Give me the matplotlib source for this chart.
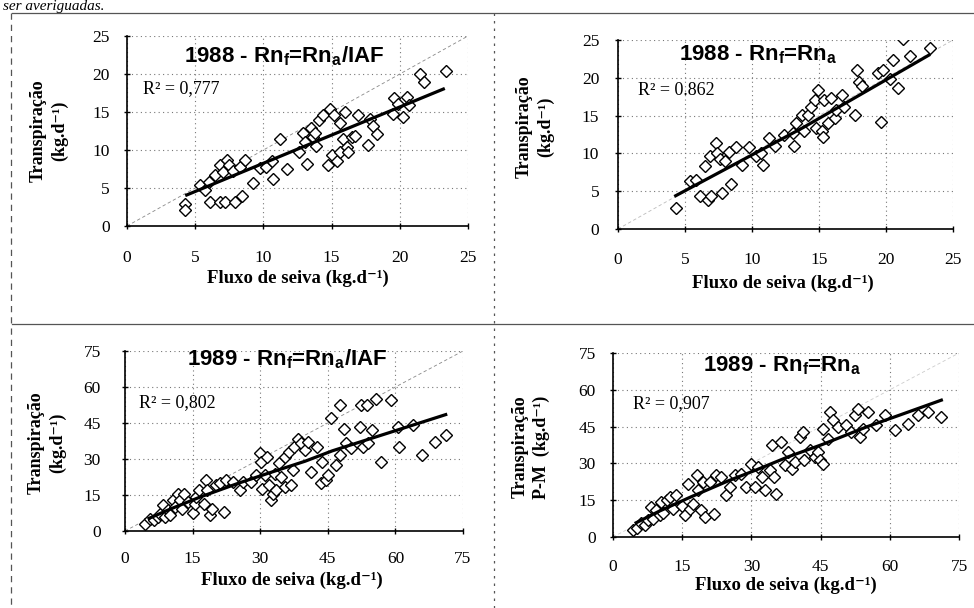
import matplotlib
matplotlib.use("Agg")
import matplotlib.pyplot as plt
from matplotlib.lines import Line2D

plt.rcParams['mathtext.fontset'] = 'custom'
plt.rcParams['mathtext.rm'] = 'Liberation Sans:bold'
plt.rcParams['mathtext.bf'] = 'Liberation Sans:bold'
plt.rcParams['mathtext.it'] = 'Liberation Sans:bold'

# ---------------- data ----------------
# Panel 1: 1988 - Rnf = Rna/IAF
p1_x = [4.27, 4.27, 5.37, 5.7, 6.0, 6.05, 6.46, 6.8, 6.8, 7.07, 7.3, 7.2, 7.5, 7.8, 7.9,
        8.3, 8.4, 8.66, 9.27, 9.76, 10.2, 10.7, 10.6, 11.2, 11.7, 12.6, 13.2, 12.9, 13.05,
        13.5, 13.65, 13.85, 13.8, 14.1, 14.4, 14.9, 14.75, 15.0, 15.2, 15.4, 15.6, 15.6,
        15.85, 16.0, 16.1, 16.5, 16.2, 16.7, 16.95, 17.7, 17.8, 18.0, 18.3, 19.5, 19.6,
        19.9, 20.2, 20.5, 20.7, 21.5, 21.8, 23.4]
p1_y = [2.85, 2.1, 5.35, 4.7, 5.8, 3.1, 6.7, 3.1, 8.0, 7.1, 8.7, 3.1, 8.0, 7.3, 3.1,
        7.8, 4.0, 8.7, 5.6, 7.6, 7.8, 6.2, 8.5, 11.4, 7.5, 9.7, 8.2, 12.2, 11.1,
        12.9, 11.7, 10.5, 12.2, 13.9, 14.6, 15.4, 8.0, 9.3, 14.6, 8.6, 9.7, 13.5,
        11.5, 15.0, 10.4, 11.7, 9.7, 11.9, 14.6, 10.6, 14.1, 13.2, 12.1, 14.8, 16.8,
        16.1, 14.4, 17.0, 15.9, 20.0, 19.0, 20.4]
p1_trend_x = [4.27, 14.1, 23.3]
p1_trend_y = [4.0, 11.3, 18.1]

# Panel 2: 1988 - Rnf = Rna
p2_x = [4.3, 5.4, 5.85, 6.1, 6.5, 6.7, 6.97, 6.84, 7.3, 7.4, 7.6, 7.76, 7.96, 8.4, 8.3,
        8.8, 9.25, 9.8, 10.3, 10.7, 10.8, 11.3, 11.7, 12.4, 13.1, 13.05, 13.3, 13.7,
        13.9, 14.2, 14.4, 14.7, 14.9, 14.8, 15.2, 15.3, 15.4, 15.7, 15.9, 16.2, 16.3,
        16.7, 16.9, 17.7, 17.8, 17.95, 18.2, 19.4, 19.65, 19.8, 20.3, 20.5, 20.9, 21.3,
        21.8, 23.3]
p2_y = [2.8, 6.4, 6.5, 4.3, 8.3, 3.9, 4.4, 9.7, 11.4, 10.0, 9.2, 4.8, 9.0, 5.9, 10.2,
        10.8, 8.4, 10.8, 9.6, 10.0, 8.5, 12.1, 11.0, 12.5, 11.0, 12.7, 14.0, 15.1,
        12.9, 15.1, 16.2, 17.1, 18.4, 13.3, 12.9, 12.2, 17.1, 14.0, 17.3, 14.7, 15.8,
        17.7, 16.2, 15.1, 21.0, 19.5, 18.9, 20.6, 14.2, 21.0, 19.9, 22.4, 18.6, 25.1,
        22.9, 23.9]
p2_trend_x = [4.2, 13.8, 23.3]
p2_trend_y = [4.3, 13.4, 23.1]

# Panel 3: 1989 - Rnf = Rna/IAF
p3_x = [4.4, 5.5, 6.4, 7.3, 7.7, 8.4, 8.8, 9.5, 9.9, 10.6, 11.0, 11.8, 12.1, 12.7, 13.2,
        14.0, 15.1, 15.5, 15.8, 16.4, 17.5, 18.0, 18.2, 18.8, 19.2, 20.3, 21.0, 21.9,
        22.5, 24.0, 25.6, 26.2, 28.0, 29.1, 29.9, 30.1, 30.3, 31.0, 31.4, 31.9, 32.5,
        32.8, 33.2, 33.6, 34.2, 34.7, 35.4, 35.6, 36.5, 36.9, 37.3, 37.6, 38.4, 39.1,
        39.9, 40.6, 41.3, 42.5, 43.6, 43.8, 44.5, 45.0, 45.8, 46.9, 47.6, 47.6, 48.7,
        48.96, 50.2, 52.1, 52.4, 52.8, 53.6, 53.9, 54.7, 55.8, 56.9, 59.1, 60.6, 60.9,
        63.9, 65.8, 68.7, 71.3]
p3_y = [2.8, 5.1, 4.5, 5.8, 7.2, 10.7, 5.8, 8.6, 6.5, 12.8, 10.0, 15.6, 13.1, 9.3, 15.3,
        12.1, 7.5, 11.1, 14.2, 17.0, 11.4, 21.1, 17.0, 6.5, 9.3, 19.1, 20.0, 7.9,
        21.1, 20.5, 17.0, 20.5, 20.5, 23.2, 32.3, 28.8, 17.7, 23.2, 30.9, 19.1, 12.8,
        15.6, 23.9, 17.0, 28.4, 22.5, 30.9, 18.4, 33.0, 19.1, 25.3, 35.1, 38.5, 36.5,
        33.7, 37.2, 24.6, 35.1, 19.8, 28.8, 21.2, 23.2, 46.9, 27.4, 31.6, 52.5, 42.7,
        36.5, 34.4, 43.4, 52.5, 35.1, 52.5, 36.5, 42.0, 55.2, 28.8, 54.5, 43.4, 35.1,
        44.1, 31.6, 37.2, 40.0]
p3_trend_x = [5, 10, 16.6, 25, 32, 40, 46, 55, 60, 71.5]
p3_trend_y = [5, 9.1, 14.1, 19.8, 24.2, 29.1, 33.4, 38.8, 41.8, 48.7]

# Panel 4: 1989 - Rnf = Rna
p4_x = [4.3, 5.1, 6.1, 6.9, 7.6, 8.3, 8.7, 9.4, 10.1, 10.5, 10.8, 11.6, 12.3, 12.9, 13.7,
        15.0, 15.5, 16.3, 16.6, 17.3, 18.1, 18.4, 19.1, 19.5, 19.9, 21.0, 21.8, 22.4,
        23.5, 24.6, 25.3, 26.4, 27.8, 28.9, 30.0, 30.7, 31.4, 32.2, 32.9, 34.0, 34.5,
        35.0, 35.4, 36.5, 37.2, 37.9, 38.7, 39.4, 40.5, 41.2, 41.5, 42.6, 43.7, 44.4,
        44.8, 45.5, 45.5, 46.6, 47.0, 47.7, 48.8, 50.6, 51.6, 52.4, 53.1, 53.5, 54.2,
        55.3, 57.1, 58.9, 61.1, 63.9, 66.1, 68.3, 71.2]
p4_y = [2.7, 3.8, 5.7, 4.8, 6.8, 12.2, 7.5, 10.9, 8.8, 14.3, 9.8, 14.9, 16.3, 11.5, 17.0,
        12.5, 8.8, 21.7, 11.5, 13.6, 25.1, 19.0, 10.9, 22.4, 8.2, 22.4, 9.5, 25.1,
        24.5, 17.0, 20.4, 25.1, 25.8, 20.4, 29.9, 20.4, 28.5, 24.5, 19.0, 27.2, 37.4,
        24.5, 17.7, 38.7, 29.2, 34.6, 27.8, 30.6, 40.8, 42.8, 31.2, 35.3, 32.6, 34.6,
        31.2, 29.9, 44.2, 40.1, 50.9, 47.6, 44.8, 45.5, 42.8, 49.6, 52.3, 40.8, 44.2,
        50.9, 45.5, 49.6, 43.5, 46.2, 49.6, 50.9, 48.9]
p4_trend_x = [4.7, 10, 16.6, 25, 31, 38, 45.5, 55, 62, 71.5]
p4_trend_y = [5.5, 10.5, 16.1, 22.9, 27.3, 32.7, 37.8, 44.9, 49.6, 56.0]

ticks_1988 = [0, 5, 10, 15, 20, 25]
ticks_1989 = [0, 15, 30, 45, 60, 75]

titles = ["1988 - Rn$_f$=Rn$_a$/IAF",
          "1988 - Rn$_f$=Rn$_a$",
          "1989 - Rn$_f$=Rn$_a$/IAF",
          "1989 - Rn$_f$=Rn$_a$"]
r2_texts = ["R² = 0,777", "R² = 0.862", "R² = 0,802", "R² = 0,907"]
ylabels = ["Transpiração\n(kg.d⁻¹)", "Transpiração\n(kg.d⁻¹)",
           "Transpiração\n(kg.d⁻¹)", "Transpiração\nP-M  (kg.d⁻¹)"]
xlabel = "Fluxo de seiva (kg.d⁻¹)"

# ---------------- layout ----------------
W, H = 974, 608
fig = plt.figure(figsize=(W / 100, H / 100), dpi=100)
fig.patch.set_facecolor('white')

def rect(l, r, t, b):
    return [l / W, 1 - b / H, (r - l) / W, (b - t) / H]

def fx(x):
    return x / W

def fy(y):
    return 1 - y / H

panels = [
    dict(box=(127, 468, 36, 226), x=p1_x, y=p1_y, tx=p1_trend_x, ty=p1_trend_y, ticks=ticks_1988,
         title_pos=(0.46, 0.86), r2_pos=(0.047, 0.70), ylab=(49, 131), xlab=(298, 278), xpad=15, ypad=10,
         diag='#888888'),
    dict(box=(618, 953, 40, 229), x=p2_x, y=p2_y, tx=p2_trend_x, ty=p2_trend_y, ticks=ticks_1988,
         title_pos=(0.42, 0.89), r2_pos=(0.06, 0.71), ylab=(535, 127), xlab=(783, 283), xpad=14, ypad=11,
         diag='#bbbbbb'),
    dict(box=(125, 463, 351, 531), x=p3_x, y=p3_y, tx=p3_trend_x, ty=p3_trend_y, ticks=ticks_1989,
         title_pos=(0.48, 0.92), r2_pos=(0.04, 0.69), ylab=(47, 443), xlab=(292, 580), xpad=12, ypad=15,
         diag='#888888'),
    dict(box=(613, 959, 353, 537), x=p4_x, y=p4_y, tx=p4_trend_x, ty=p4_trend_y, ticks=ticks_1989,
         title_pos=(0.49, 0.90), r2_pos=(0.058, 0.70), ylab=(531, 447), xlab=(786, 585), xpad=13, ypad=10,
         diag='#cccccc'),
]

serif = ['Liberation Serif', 'DejaVu Serif']

for i, p in enumerate(panels):
    ax = fig.add_axes(rect(*p['box']))
    lim = p['ticks'][-1]
    ax.set_xlim(0, lim)
    ax.set_ylim(0, lim)
    ax.set_xticks(p['ticks'])
    ax.set_yticks(p['ticks'])
    ax.grid(True, linestyle=(0, (1, 3)), color='#777777', linewidth=0.8)
    ax.set_axisbelow(True)
    for s in ['top', 'right']:
        ax.spines[s].set_visible(False)
    for s in ['left', 'bottom']:
        ax.spines[s].set_color('black')
        ax.spines[s].set_linewidth(1.2)
    ax.tick_params(direction='inout', length=5, width=1, colors='black',
                   labelsize=12.5)
    ax.tick_params(axis='x', pad=p['xpad'])
    ax.tick_params(axis='y', pad=p['ypad'])
    for lab in ax.get_xticklabels() + ax.get_yticklabels():
        lab.set_fontfamily(serif)

    # 1:1 reference line
    ax.plot([0, lim], [0, lim], linestyle=(0, (4, 3)), color=p['diag'], linewidth=0.6, zorder=2)
    # data
    ax.plot(p['x'], p['y'], linestyle='none', marker='D', markersize=6.5,
            markerfacecolor='white', markeredgecolor='black', markeredgewidth=1.0, zorder=3)
    # trend
    ax.plot(p['tx'], p['ty'], color='black', linewidth=2.3, zorder=4, solid_capstyle='butt')

    ax.text(p['title_pos'][0], p['title_pos'][1], titles[i], transform=ax.transAxes,
            ha='center', va='baseline', fontsize=16, family='Liberation Sans', fontweight='bold')
    ax.text(p['r2_pos'][0], p['r2_pos'][1], r2_texts[i], transform=ax.transAxes,
            ha='left', va='baseline', fontsize=13, family=serif)

    fig.text(fx(p['ylab'][0]), fy(p['ylab'][1]), ylabels[i], rotation=90, ha='center', va='center',
             multialignment='center', fontsize=13, fontweight='bold', family=serif, linespacing=1.35)
    fig.text(fx(p['xlab'][0]), fy(p['xlab'][1]), xlabel, ha='center', va='center',
             fontsize=13.5, fontweight='bold', family=serif)

# page decorations from the scanned document
fig.text(fx(3), fy(10), "ser averiguadas.", ha='left', va='baseline', fontsize=11,
         family=serif, style='italic')
deco = dict(color='#555555', linewidth=0.9, transform=fig.transFigure)
fig.add_artist(Line2D([fx(12), fx(974)], [fy(13), fy(13)], **deco))
fig.add_artist(Line2D([fx(12), fx(974)], [fy(324), fy(324)], **deco))
fig.add_artist(Line2D([fx(11), fx(11)], [fy(13), fy(608)], linestyle=(0, (5, 4)), **deco))
fig.add_artist(Line2D([fx(494), fx(494)], [fy(13), fy(608)], linestyle=(0, (2, 4)), **deco))

fig.savefig("out.png", dpi=100, facecolor='white')
